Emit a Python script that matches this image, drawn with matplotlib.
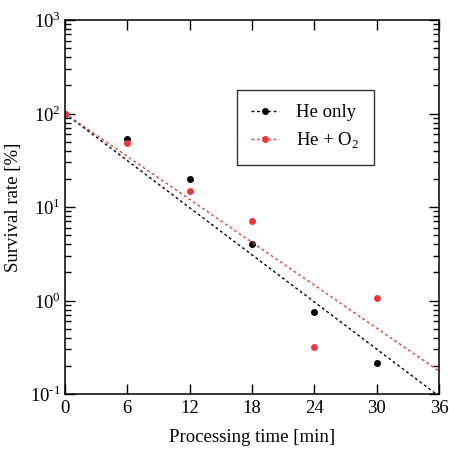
import numpy as np
import matplotlib
matplotlib.use('Agg')
import matplotlib.pyplot as plt
from matplotlib.ticker import NullFormatter, FixedLocator, FuncFormatter

plt.rcParams['font.family'] = ['Liberation Serif', 'DejaVu Serif']
plt.rcParams['mathtext.fontset'] = 'custom'
plt.rcParams['mathtext.rm'] = 'Liberation Serif'
plt.rcParams['axes.unicode_minus'] = False

# data
time_min = [0, 6, 12, 18, 24, 30]
he_only = [100, 53, 20, 4.0, 0.75, 0.214]
he_o2 = [100, 48, 15, 7.1, 0.32, 1.07]
series_names = ['He only', 'He + O$_2$']
series_colors = ['black', '#e8383d']
x_ticks = [0, 6, 12, 18, 24, 30, 36]
y_decades = [-1, 0, 1, 2, 3]

fig = plt.figure(figsize=(4.49, 4.5), dpi=100)
ax = fig.add_axes([65 / 449, 1 - 394 / 450, 374 / 449, 374 / 450])

t_fit = np.linspace(0, 36, 100)
t = np.array(time_min, dtype=float)
for vals, name, col in zip([he_only, he_o2], series_names, series_colors):
    v = np.log10(np.array(vals)) - 2
    # fit through 100 % at t = 0
    slope = np.sum(t * v) / np.sum(t * t)
    ax.plot(t_fit, 100 * 10 ** (slope * t_fit), color=col, lw=1, ls=(0, (2, 2)))
    ax.plot(time_min, vals, 'o', color=col, ms=5, mec='none')
    ax.plot([], [], color=col, lw=1, ls=(0, (2, 2)), marker='o', ms=5, mec='none', label=name)

ax.set_yscale('log')
ax.set_xlim(0, 36)
ax.set_ylim(0.1, 1000)
ax.xaxis.set_major_locator(FixedLocator(x_ticks))
ax.yaxis.set_major_locator(FixedLocator([10.0 ** d for d in y_decades]))
minors = [m * 10.0 ** d for d in y_decades[:-1] for m in range(2, 10)]
ax.yaxis.set_minor_locator(FixedLocator(minors))
ax.yaxis.set_minor_formatter(NullFormatter())
ax.yaxis.set_major_formatter(FuncFormatter(
    lambda v, p: r'$\mathregular{10}^{\text{%d}}$' % round(np.log10(v))))
ax.tick_params(which='both', direction='in', top=True, right=True, labelsize=13.5, width=1)
ax.tick_params(which='major', length=7)
ax.tick_params(axis='y', which='major', pad=3)
ax.tick_params(axis='x', which='major', pad=4)
ax.tick_params(which='minor', length=4)
for s in ax.spines.values():
    s.set_linewidth(1.1)

ax.set_xlabel('Processing time [min]', fontsize=13.5, labelpad=9)
ax.set_ylabel('Survival rate [%]', fontsize=13.5)
ax.yaxis.set_label_coords(-0.115, 0.5)

leg = ax.legend(loc='upper left', bbox_to_anchor=(0.46, 0.813), borderaxespad=0,
                fontsize=13.5, frameon=True, fancybox=False, edgecolor='black',
                handlelength=1.5, handletextpad=0.9, borderpad=0.75, labelspacing=0.5)
leg.get_frame().set_linewidth(1)

fig.savefig('out.png', dpi=100)
